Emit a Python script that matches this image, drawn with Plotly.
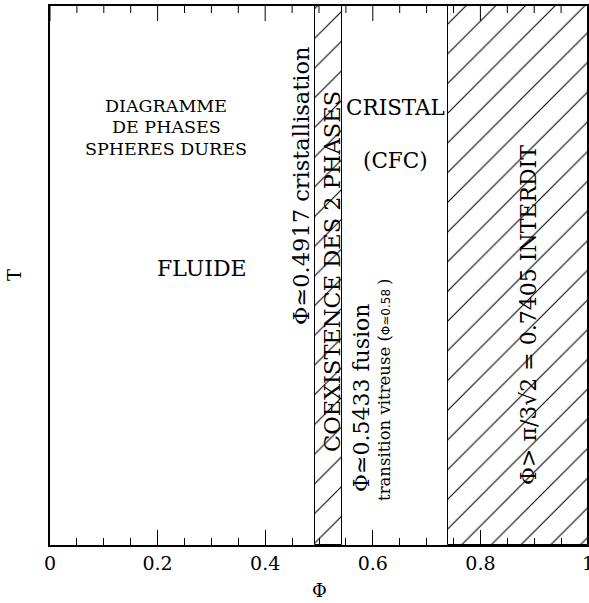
import plotly.graph_objects as go

# Data: phase boundaries (packing fraction Phi)
region_starts = [0.4917, 0.7405]
region_ends = [0.5433, 1.0]
tick_vals = [0, 0.2, 0.4, 0.6, 0.8, 1]
tick_text = ["0", "0.2", "0.4", "0.6", "0.8", "1"]
minor_tick_vals = [0.05, 0.1, 0.15, 0.25, 0.3, 0.35, 0.45, 0.5, 0.55,
                   0.65, 0.7, 0.75, 0.85, 0.9, 0.95]

SERIF = "DejaVu Serif, Liberation Serif, serif"
PLOT_H = 603 - 6 - 58  # plot area height in px

fig = go.Figure()
fig.add_trace(go.Bar(
    x=[(a + b) / 2 for a, b in zip(region_starts, region_ends)],
    y=[1, 1],
    width=[b - a for a, b in zip(region_starts, region_ends)],
    base=0,
    marker=dict(
        color="white",
        line=dict(color="black", width=1),
        pattern=dict(shape="/", size=21, solidity=0.05,
                     fgcolor="black", bgcolor="white", fillmode="replace"),
    ),
    showlegend=False,
    hoverinfo="skip",
))

# top-edge tick marks (mirror of the bottom axis ticks) as one line trace
tx, ty = [], []
for vals, length in ((tick_vals, 15), (minor_tick_vals, 7)):
    for v in vals:
        tx += [v, v, None]
        ty += [1, 1 - length / PLOT_H, None]
fig.add_trace(go.Scatter(x=tx, y=ty, mode="lines", line=dict(color="black", width=1),
                         showlegend=False, hoverinfo="skip", cliponaxis=False))

fig.update_layout(
    width=589, height=603,
    margin=dict(l=50, r=1, t=6, b=58),
    paper_bgcolor="white", plot_bgcolor="white",
    font=dict(family=SERIF, color="black", size=17),
    bargap=0,
    xaxis=dict(
        range=[0, 1], tickvals=tick_vals, ticktext=tick_text,
        ticks="inside", ticklen=15, tickcolor="black", tickwidth=1,
        minor=dict(dtick=0.05, tick0=0, ticks="inside", ticklen=7,
                   tickcolor="black", tickwidth=1),
        showgrid=False, zeroline=False, automargin=False,
        layer="above traces",
        showline=True, linecolor="black", linewidth=1.5, mirror=True,
        ticklabeloverflow="allow",
        tickfont=dict(family=SERIF, size=19),
    ),
    yaxis=dict(
        range=[0, 1], showticklabels=False, ticks="",
        showline=True, linecolor="black", linewidth=1.5, mirror=True,
        showgrid=False, zeroline=False, automargin=False,
    ),
)

def yfrac(py):
    return 1 - (py - 6) / (545 - 6)

def xfrac(px):
    return (px - 50) / (588 - 50)

ann = [
    dict(text="DIAGRAMME", x=xfrac(166), y=yfrac(106), size=17.5, angle=0),
    dict(text="DE PHASES", x=xfrac(166), y=yfrac(127), size=17.5, angle=0),
    dict(text="SPHERES DURES", x=xfrac(166), y=yfrac(149), size=17.5, angle=0),
    dict(text="FLUIDE", x=xfrac(202), y=yfrac(268), size=22, angle=0),
    dict(text="CRISTAL", x=xfrac(395), y=yfrac(107), size=21.5, angle=0),
    dict(text="(CFC)", x=xfrac(395), y=yfrac(160), size=21.5, angle=0),
    dict(text="Φ≃0.4917 cristallisation", x=xfrac(301), y=yfrac(186), size=22.5, angle=-90),
    dict(text="COEXISTENCE DES 2 PHASES", x=xfrac(332), y=yfrac(272), size=22.5, angle=-90),
    dict(text="Φ≃0.5433 fusion", x=xfrac(361), y=yfrac(398), size=22, angle=-90),
    dict(text="transition vitreuse (<span style=\"font-family:DejaVu Sans;font-size:12px\">Φ≃0.58 </span>)",
         x=xfrac(384), y=yfrac(390), size=16.5, angle=-90),
    dict(text="Φ> π/3√2 = 0.7405 INTERDIT", x=xfrac(528), y=yfrac(315), size=22, angle=-90),
    dict(text="Φ", x=xfrac(319), y=yfrac(590), size=18, angle=0),
    dict(text="T", x=xfrac(15), y=yfrac(275), size=18, angle=-90),
]
for a in ann:
    fig.add_annotation(text=a["text"], x=a["x"], y=a["y"], xref="paper", yref="paper",
                       showarrow=False, textangle=a["angle"],
                       font=dict(family=SERIF, size=a["size"], color="black"),
                       xanchor="center", yanchor="middle", align="center")

fig.write_html("out.html", config={"displayModeBar": False},
               post_script="document.body.style.margin='0';document.body.style.overflow='hidden';")
